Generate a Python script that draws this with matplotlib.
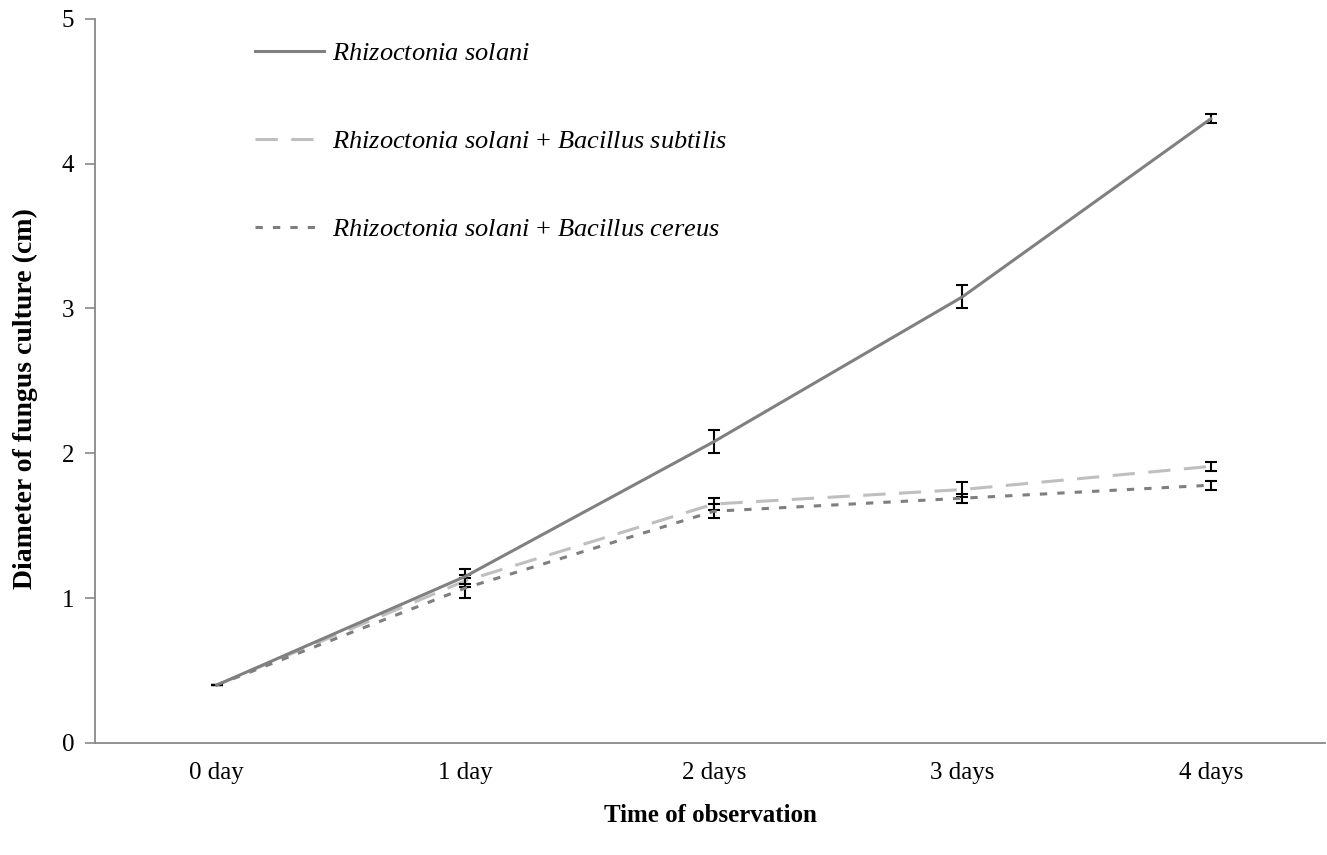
import matplotlib
matplotlib.use("Agg")
import matplotlib.pyplot as plt
from matplotlib.lines import Line2D

categories = ["0 day", "1 day", "2 days", "3 days", "4 days"]
rs = [0.40, 1.15, 2.08, 3.08, 4.31]
rs_err = [0.0, 0.05, 0.08, 0.08, 0.03]
rs_bs = [0.40, 1.12, 1.65, 1.75, 1.91]
rs_bs_err = [0.0, 0.04, 0.04, 0.05, 0.03]
rs_bc = [0.40, 1.07, 1.60, 1.69, 1.78]
rs_bc_err = [0.0, 0.07, 0.05, 0.03, 0.03]

labels = [r"$\it{Rhizoctonia\ solani}$",
          r"$\it{Rhizoctonia\ solani}$ + $\it{Bacillus\ subtilis}$",
          r"$\it{Rhizoctonia\ solani}$ + $\it{Bacillus\ cereus}$"]

plt.rcParams['font.family'] = ['Liberation Serif', 'DejaVu Serif']
plt.rcParams['mathtext.fontset'] = 'custom'
plt.rcParams['mathtext.it'] = 'Liberation Serif:italic'
plt.rcParams['mathtext.rm'] = 'Liberation Serif'

fig = plt.figure(figsize=(13.27, 8.55), dpi=100)
ax = fig.add_axes([0.0716, 0.131, 0.927, 0.847])

x = list(range(len(categories)))
lw = 2.2
dash_bs = (0, (7.3, 4.4))
dash_bc = (0, (2.4, 3.3))
ekw = dict(ecolor='black', elinewidth=1.5, capsize=4, capthick=1.5)
ax.errorbar(x, rs, yerr=rs_err, color='#808080', lw=lw, zorder=3, **ekw)
ax.errorbar(x, rs_bs, yerr=rs_bs_err, color='#BFBFBF', lw=lw, ls=dash_bs, zorder=2, **ekw)
ax.errorbar(x, rs_bc, yerr=rs_bc_err, color='#7F7F7F', lw=lw, ls=dash_bc, zorder=2, **ekw)

handles = [Line2D([], [], color='#808080', lw=lw),
           Line2D([], [], color='#BFBFBF', lw=lw, ls=dash_bs),
           Line2D([], [], color='#7F7F7F', lw=lw, ls=dash_bc)]
ax.legend(handles, labels, loc='upper left', bbox_to_anchor=(0.1215, 0.983),
          frameon=False, fontsize=19, handlelength=2.6, handletextpad=0.3,
          labelspacing=2.45, borderaxespad=0)

ax.set_xlim(-0.49, 4.46)
ax.set_ylim(0, 5)
ax.set_yticks([0, 1, 2, 3, 4, 5])
ax.set_xticks(x)
ax.set_xticklabels(categories)
ax.tick_params(axis='x', length=0, pad=14, labelsize=18)
ax.tick_params(axis='y', length=7, width=1.2, color='#888888', pad=8, labelsize=18)
for s in ['top', 'right']:
    ax.spines[s].set_visible(False)
for s in ['left', 'bottom']:
    ax.spines[s].set_color('#888888')
    ax.spines[s].set_linewidth(1.3)

ax.set_xlabel("Time of observation", fontsize=18, fontweight='bold', labelpad=14)
ax.set_ylabel("Diameter of fungus culture (cm)", fontsize=20, fontweight='bold')
ax.yaxis.set_label_coords(-0.046, 0.475)

fig.savefig("out.png", dpi=100)
